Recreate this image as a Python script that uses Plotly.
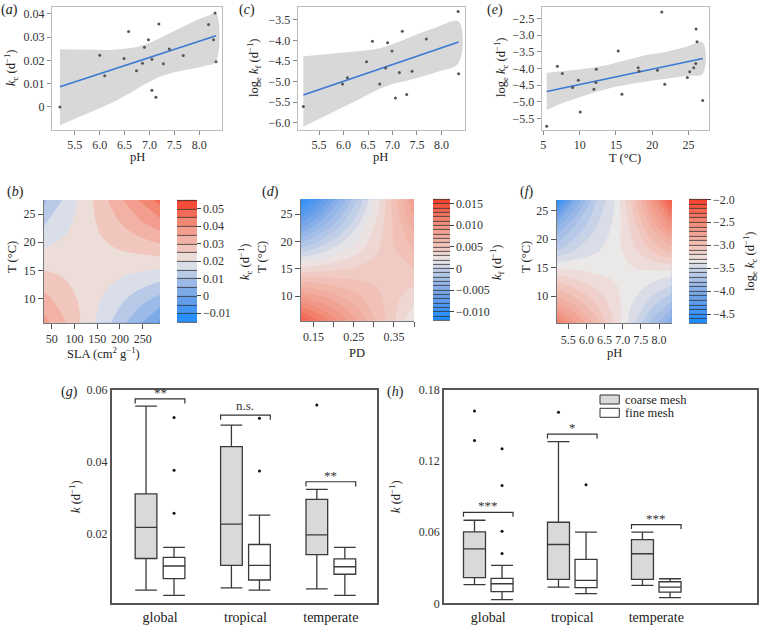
import plotly.graph_objects as go

W, H = 760, 625
FONT = "Liberation Serif"
INK = "#222222"

# ---------------- data ----------------
# (a) k_c against pH
a_ph = [5.20, 6.00, 6.10, 6.58, 6.49, 6.74, 6.86, 6.90, 6.98, 7.05, 7.05, 7.13, 7.19, 7.28, 7.40, 7.68, 8.19, 8.32, 8.29, 8.34]
a_kc = [0.0, 0.0222, 0.0134, 0.0325, 0.0209, 0.0156, 0.0188, 0.0257, 0.0289, 0.0205, 0.0072, 0.0042, 0.0357, 0.0186, 0.0249, 0.0221, 0.0355, 0.0404, 0.0289, 0.0195]
a_fit_x = [5.20, 8.34]
a_fit_y = [0.0087, 0.0306]
a_band_x = [5.20, 5.67, 6.14, 6.54, 6.88, 7.21, 7.55, 7.89, 8.15, 8.34]
a_band_hi = [0.0248, 0.0247, 0.0245, 0.0251, 0.0267, 0.0296, 0.0332, 0.0368, 0.0390, 0.0404]
a_band_lo = [-0.0079, -0.0036, 0.0007, 0.0051, 0.0094, 0.0130, 0.0152, 0.0166, 0.0178, 0.0195]

# (c) log_e k_f against pH
c_ph = [5.18, 5.98, 6.08, 6.47, 6.59, 6.74, 6.86, 6.90, 6.99, 7.06, 7.14, 7.20, 7.29, 7.40, 7.69, 8.34, 8.35]
c_lkf = [-5.61, -5.06, -4.91, -4.52, -4.02, -5.06, -4.67, -4.06, -4.26, -5.40, -4.78, -3.78, -5.32, -4.75, -3.97, -3.30, -4.81]
c_fit_x = [5.18, 8.35]
c_fit_y = [-5.33, -4.04]
c_band_x = [5.18, 5.79, 6.34, 6.74, 7.08, 7.49, 7.90, 8.35]
c_band_hi = [-4.39, -4.32, -4.26, -4.19, -4.06, -3.86, -3.68, -3.54]
c_band_lo = [-6.10, -5.74, -5.42, -5.18, -5.04, -4.92, -4.77, -4.55]

# (e) log_e k_c against temperature
e_t = [5.46, 6.93, 7.61, 9.04, 9.82, 10.09, 11.97, 12.29, 12.25, 15.32, 15.83, 18.07, 18.21, 20.73, 21.33, 21.74, 24.86, 25.18, 25.73, 26.01, 26.06, 26.19, 26.97]
e_lkc = [-5.73, -3.93, -4.15, -4.57, -4.35, -5.30, -4.62, -4.02, -4.42, -3.48, -4.77, -3.98, -4.08, -4.05, -2.31, -4.47, -4.27, -4.10, -3.98, -3.85, -2.82, -3.20, -4.96]
e_fit_x = [5.46, 26.97]
e_fit_y = [-4.69, -3.70]
e_band_x = [5.46, 8.21, 10.96, 13.72, 16.47, 19.22, 21.97, 24.72, 26.97]
e_band_hi = [-4.13, -4.07, -4.00, -3.90, -3.75, -3.60, -3.50, -3.35, -3.22]
e_band_lo = [-5.24, -4.99, -4.79, -4.61, -4.49, -4.39, -4.31, -4.22, -4.16]

# (b) predicted k_c over SLA x T
b_sla = [33, 75, 118, 160, 203, 245, 288]
b_t = [5.7, 10.1, 14.4, 18.8, 23.1, 27.5]
b_kc = [
    [0.0370, 0.0307, 0.0243, 0.0180, 0.0117, 0.0053, -0.0010],
    [0.0314, 0.0276, 0.0238, 0.0200, 0.0162, 0.0124, 0.0086],
    [0.0258, 0.0245, 0.0233, 0.0220, 0.0207, 0.0195, 0.0182],
    [0.0202, 0.0215, 0.0227, 0.0240, 0.0253, 0.0265, 0.0278],
    [0.0146, 0.0184, 0.0222, 0.0260, 0.0298, 0.0336, 0.0374],
    [0.0090, 0.0153, 0.0217, 0.0280, 0.0343, 0.0407, 0.0470],
]

# (d) predicted k_f over PD x T
d_pd = [0.119, 0.166, 0.213, 0.260, 0.306, 0.353, 0.400]
d_t = [5.5, 9.9, 14.4, 18.8, 23.3, 27.7]
d_kf = [
    [0.0140, 0.0120, 0.0100, 0.0080, 0.0060, 0.0040, 0.0020],
    [0.0090, 0.0081, 0.0071, 0.0062, 0.0053, 0.0043, 0.0034],
    [0.0040, 0.0041, 0.0043, 0.0044, 0.0045, 0.0047, 0.0048],
    [-0.0010, 0.0002, 0.0014, 0.0026, 0.0038, 0.0050, 0.0062],
    [-0.0060, -0.0037, -0.0015, 0.0008, 0.0031, 0.0053, 0.0076],
    [-0.0110, -0.0077, -0.0043, -0.0010, 0.0023, 0.0057, 0.0090],
]

# (f) predicted log_e k_c over pH x T
f_ph = [5.18, 5.71, 6.24, 6.77, 7.29, 7.82, 8.35]
f_t = [5.2, 9.5, 13.9, 18.2, 22.6, 26.9]
f_lkc = [
    [-2.40, -2.67, -2.94, -3.21, -3.48, -3.75, -4.00],
    [-2.86, -2.99, -3.13, -3.26, -3.39, -3.52, -3.66],
    [-3.22, -3.26, -3.30, -3.32, -3.33, -3.34, -3.36],
    [-3.62, -3.50, -3.42, -3.35, -3.22, -3.08, -2.95],
    [-3.95, -3.70, -3.52, -3.38, -3.15, -2.85, -2.55],
    [-4.60, -4.00, -3.62, -3.40, -3.05, -2.62, -2.15],
]

# (g), (h) box summaries: global, tropical, temperate
groups = ["global", "tropical", "temperate"]

g_coarse_lo = [0.0042, 0.0048, 0.0045]
g_coarse_q1 = [0.0130, 0.0111, 0.0141]
g_coarse_med = [0.0217, 0.0226, 0.0196]
g_coarse_q3 = [0.0310, 0.0442, 0.0295]
g_coarse_hi = [0.0555, 0.0502, 0.0323]
g_fine_lo = [0.0027, 0.0042, 0.0027]
g_fine_q1 = [0.0074, 0.0070, 0.0086]
g_fine_med = [0.0109, 0.0111, 0.0107]
g_fine_q3 = [0.0133, 0.0169, 0.0129]
g_fine_hi = [0.0161, 0.0251, 0.0161]
g_coarse_out_grp = [3]
g_coarse_out = [0.0558]
g_fine_out_grp = [1, 1, 1, 2, 2]
g_fine_out = [0.0523, 0.0376, 0.0256, 0.0521, 0.0374]
g_sig_y = [0.0575, 0.0530, 0.0344]
g_sig_txt = ["**", "n.s.", "**"]

h_coarse_lo = [0.0157, 0.0137, 0.0151]
h_coarse_q1 = [0.0216, 0.0202, 0.0202]
h_coarse_med = [0.0460, 0.0496, 0.0418]
h_coarse_q3 = [0.0603, 0.0684, 0.0538]
h_coarse_hi = [0.0701, 0.1365, 0.0600]
h_fine_lo = [0.0031, 0.0081, 0.0048]
h_fine_q1 = [0.0098, 0.0132, 0.0095]
h_fine_med = [0.0165, 0.0193, 0.0137]
h_fine_q3 = [0.0210, 0.0370, 0.0182]
h_fine_hi = [0.0320, 0.0600, 0.0207]
h_coarse_out_grp = [1, 1, 2]
h_coarse_out = [0.1623, 0.1374, 0.1612]
h_fine_out_grp = [1, 1, 1, 1, 2]
h_fine_out = [0.1304, 0.0995, 0.0608, 0.0421, 0.1001]
h_sig_y = [0.0768, 0.1427, 0.0664]
h_sig_txt = ["***", "*", "***"]


# ---------------- helpers ----------------
def xd(l, r):
    return [l / W, r / W]


def yd(t, b):
    return [1 - b / H, 1 - t / H]


def px(x):
    return x / W


def py(y):
    return 1 - y / H


fig = go.Figure()
annotations = []
shapes = []


def note(text, x, y, size=12.5, angle=0, xanchor="center", yanchor="middle"):
    annotations.append(dict(text=text, x=px(x), y=py(y), xref="paper", yref="paper",
                            showarrow=False, textangle=angle, xanchor=xanchor, yanchor=yanchor,
                            font=dict(family=FONT, size=size, color=INK)))


tickfont = dict(family=FONT, size=12, color="#333333")

# ---------------- top row: scatter + fit + confidence band ----------------
top_panels = [
    ("x", "y", a_ph, a_kc, a_fit_x, a_fit_y, a_band_x, a_band_hi, a_band_lo),
    ("x2", "y2", c_ph, c_lkf, c_fit_x, c_fit_y, c_band_x, c_band_hi, c_band_lo),
    ("x3", "y3", e_t, e_lkc, e_fit_x, e_fit_y, e_band_x, e_band_hi, e_band_lo),
]
for xa, ya, sx, sy, fx, fy, bx, bh, bl in top_panels:
    fig.add_trace(go.Scatter(x=bx + bx[::-1], y=bh + bl[::-1], fill="toself", mode="lines",
                             line=dict(width=0, shape="spline"), fillcolor="#d8d8d8",
                             xaxis=xa, yaxis=ya, hoverinfo="skip"))
    fig.add_trace(go.Scatter(x=fx, y=fy, mode="lines", line=dict(color="#3a78d4", width=1.6),
                             xaxis=xa, yaxis=ya))
    fig.add_trace(go.Scatter(x=sx, y=sy, mode="markers", marker=dict(size=3, color="#555555"),
                             xaxis=xa, yaxis=ya))

# ---------------- middle row: filled contour surfaces ----------------
CS = [[0.0, "#1a8cff"], [0.2, "#6a9fe8"], [0.4, "#bccbe8"], [0.5, "#ebe8e8"],
      [0.6, "#f1c8bf"], [0.8, "#f28f7d"], [1.0, "#f5402c"]]

heat_panels = [
    ("x4", "y4", b_sla, b_t, b_kc, -0.015, 0.055, 0.005, 177, 197, 200, 322,
     [-0.01, 0, 0.01, 0.02, 0.03, 0.04, 0.05], ["−0.01", "0", "0.01", "0.02", "0.03", "0.04", "0.05"]),
    ("x5", "y5", d_pd, d_t, d_kf, -0.012, 0.016, 0.001, 432.7, 450, 199.3, 320.7,
     [-0.01, -0.005, 0, 0.005, 0.01, 0.015], ["−0.010", "−0.005", "0", "0.005", "0.010", "0.015"]),
    ("x6", "y6", f_ph, f_t, f_lkc, -4.7, -2.0, 0.1, 689.3, 707.3, 199.3, 323.3,
     [-4.5, -4.0, -3.5, -3.0, -2.5, -2.0], ["−4.5", "−4.0", "−3.5", "−3.0", "−2.5", "−2.0"]),
]
for xa, ya, hx, hy, hz, z0, z1, step, cl, cr, ct, cbm, tv, tt in heat_panels:
    common = dict(x=hx, y=hy, z=hz, xaxis=xa, yaxis=ya, colorscale=CS, zmin=z0, zmax=z1,
                  autocontour=False, hoverinfo="skip",
                  contours=dict(start=z0, end=z1, size=step, coloring="fill"))
    fig.add_trace(go.Contour(**common, line=dict(width=0, smoothing=1.3), showscale=False))
    # transparent twin: only supplies the banded colour bar with its dark separators
    fig.add_trace(go.Contour(**common, opacity=0, line=dict(width=0.8, color="#333333"), showscale=True,
                             colorbar=dict(x=px(cl), xanchor="left", y=py(ct), yanchor="top",
                                           len=(cbm - ct) / H, lenmode="fraction",
                                           thickness=cr - cl, thicknessmode="pixels",
                                           xpad=0, ypad=0, outlinewidth=0, ticks="outside",
                                           ticklen=4, tickcolor="#444444", tickvals=tv, ticktext=tt,
                                           tickfont=tickfont)))

# ---------------- bottom row: box plots ----------------
OFF = 0.164


def boxes(xa, ya, width, lo, q1, med, q3, hi, side, fill):
    pos = [i + 1 + side * OFF for i in range(len(groups))]
    fig.add_trace(go.Box(x=pos, lowerfence=lo, q1=q1, median=med, q3=q3, upperfence=hi,
                         width=width, whiskerwidth=1, fillcolor=fill, boxpoints=False,
                         line=dict(color="#3a3a3a", width=1.3), xaxis=xa, yaxis=ya))


def outliers(xa, ya, grp, vals, side):
    fig.add_trace(go.Scatter(x=[g + side * OFF for g in grp], y=vals, mode="markers",
                             marker=dict(size=3, color="#111111"), xaxis=xa, yaxis=ya))


def brackets(xr, yr, half, ys, txts, drop):
    for i, (yv, t) in enumerate(zip(ys, txts)):
        c = i + 1
        shapes.append(dict(type="path", xref=xr, yref=yr,
                           path=f"M{c - half},{yv - drop} L{c - half},{yv} L{c + half},{yv} L{c + half},{yv - drop}",
                           line=dict(color="#333333", width=1.2)))
        annotations.append(dict(text=t, x=c, y=yv, xref=xr, yref=yr, showarrow=False,
                                yanchor="bottom", yshift=-3 if t.startswith("*") else 0,
                                font=dict(family=FONT, size=13, color="#333333")))


boxes("x7", "y7", 0.254, g_coarse_lo, g_coarse_q1, g_coarse_med, g_coarse_q3, g_coarse_hi, -1, "#d9d9d9")
boxes("x7", "y7", 0.254, g_fine_lo, g_fine_q1, g_fine_med, g_fine_q3, g_fine_hi, 1, "#ffffff")
outliers("x7", "y7", g_coarse_out_grp, g_coarse_out, -1)
outliers("x7", "y7", g_fine_out_grp, g_fine_out, 1)
brackets("x7", "y7", OFF + 0.127, g_sig_y, g_sig_txt, 0.0013)

boxes("x8", "y8", 0.262, h_coarse_lo, h_coarse_q1, h_coarse_med, h_coarse_q3, h_coarse_hi, -1, "#d9d9d9")
boxes("x8", "y8", 0.262, h_fine_lo, h_fine_q1, h_fine_med, h_fine_q3, h_fine_hi, 1, "#ffffff")
outliers("x8", "y8", h_coarse_out_grp, h_coarse_out, -1)
outliers("x8", "y8", h_fine_out_grp, h_fine_out, 1)
brackets("x8", "y8", OFF + 0.131, h_sig_y, h_sig_txt, 0.0038)

# legend of panel (h)
for (t, b), fill, label in [((395, 404), "#d9d9d9", "coarse mesh"), ((408.3, 417.3), "#ffffff", "fine mesh")]:
    shapes.append(dict(type="rect", xref="paper", yref="paper", x0=px(600), x1=px(619.3),
                       y0=py(b), y1=py(t), fillcolor=fill, line=dict(color="#333333", width=1)))
    note(label, 623, (t + b) / 2, size=12.5, xanchor="left")

# ---------------- axes ----------------
top_ax = dict(showgrid=False, zeroline=False, showline=True, mirror=True, linecolor="#bdbdbd",
              linewidth=1, ticks="outside", ticklen=4, tickcolor="#888888", tickfont=tickfont)
mid_ax = dict(showgrid=False, zeroline=False, showline=True, linecolor="#777777", linewidth=1,
              ticks="outside", ticklen=5, tickcolor="#555555", tickfont=tickfont)
box_ax = dict(showgrid=False, zeroline=False, showline=True, mirror=True, linecolor="#555555",
              linewidth=1.5, ticks="", tickfont=tickfont)

fig.update_layout(
    xaxis=dict(top_ax, domain=xd(52, 222), range=[5.04, 8.46], tickvals=[5.5, 6.0, 6.5, 7.0, 7.5, 8.0],
               tickformat=".1f", anchor="y"),
    yaxis=dict(top_ax, domain=yd(7, 130), range=[-0.0099, 0.043], tickvals=[0, 0.01, 0.02, 0.03, 0.04],
               ticktext=["0", "0.01", "0.02", "0.03", "0.04"], anchor="x"),
    xaxis2=dict(top_ax, domain=xd(297.7, 465), range=[5.065, 8.48], tickvals=[5.5, 6.0, 6.5, 7.0, 7.5, 8.0],
                tickformat=".1f", anchor="y2"),
    yaxis2=dict(top_ax, domain=yd(7, 130), range=[-6.18, -3.19], dtick=0.5, tick0=-6.0,
                tickformat=".1f", anchor="x2"),
    xaxis3=dict(top_ax, domain=xd(541.7, 709), range=[4.77, 27.84], tickvals=[5, 10, 15, 20, 25], anchor="y3"),
    yaxis3=dict(top_ax, domain=yd(7.3, 130), range=[-5.84, -2.17], dtick=0.5, tick0=-5.5,
                tickformat=".1f", anchor="x3"),
    xaxis4=dict(mid_ax, domain=xd(44, 160), range=[33, 288], tickvals=[50, 100, 150, 200, 250], anchor="y4"),
    yaxis4=dict(mid_ax, domain=yd(200, 322.7), range=[5.7, 27.5], tickvals=[10, 15, 20, 25], anchor="x4"),
    xaxis5=dict(mid_ax, domain=xd(301, 414), range=[0.119, 0.40],
                tickvals=[0.15, 0.20, 0.25, 0.30, 0.35, 0.40], ticktext=["0.15", "", "0.25", "", "0.35", ""],
                anchor="y5"),
    yaxis5=dict(mid_ax, domain=yd(199.3, 320.7), range=[5.5, 27.7], tickvals=[10, 15, 20, 25], anchor="x5"),
    xaxis6=dict(mid_ax, domain=xd(556.7, 671.7), range=[5.18, 8.35], tickvals=[5.5, 6.0, 6.5, 7.0, 7.5, 8.0],
                tickformat=".1f", anchor="y6"),
    yaxis6=dict(mid_ax, domain=yd(200, 323.3), range=[5.2, 26.9], tickvals=[10, 15, 20, 25], anchor="x6"),
    xaxis7=dict(box_ax, domain=xd(111.7, 376.7), range=[0.434, 3.537], tickvals=[1, 2, 3], ticktext=groups,
                tickfont=dict(family=FONT, size=14, color=INK), anchor="y7"),
    yaxis7=dict(box_ax, domain=yd(390, 603.3), range=[0.0005, 0.06], tickvals=[0.02, 0.04, 0.06],
                tickformat=".2f", anchor="x7"),
    xaxis8=dict(box_ax, domain=xd(444, 756.7), range=[0.473, 4.196], tickvals=[1, 2, 3], ticktext=groups,
                tickfont=dict(family=FONT, size=14, color=INK), anchor="y8"),
    yaxis8=dict(box_ax, domain=yd(390, 603.3), range=[0, 0.18], tickvals=[0, 0.06, 0.12, 0.18],
                ticktext=["0", "0.06", "0.12", "0.18"], anchor="x8"),
)

# ---------------- labels ----------------
for lab, x, y in [("a", 9, 10), ("c", 247, 10), ("e", 495, 10), ("b", 15, 192), ("d", 270, 192),
                  ("f", 527, 192), ("g", 69, 392), ("h", 395, 392)]:
    note(f"(<i>{lab}</i>)", x, y, size=14)

kc = "<i>k</i><sub>c</sub> (d<sup>−1</sup>)"
note(kc, 11, 68, angle=-90)
note("log<sub>e</sub> <i>k</i><sub>f</sub> (d<sup>−1</sup>)", 254, 68, angle=-90)
note("log<sub>e</sub> <i>k</i><sub>c</sub> (d<sup>−1</sup>)", 501, 68, angle=-90)
note("pH", 137, 157)
note("pH", 381, 157)
note("T (°C)", 625, 158)

for x in (12, 262, 526):
    note("T (°C)", x, 257, angle=-90)
note("SLA (cm<sup>2</sup> g<sup>−1</sup>)", 103, 353)
note("PD", 357, 353)
note("pH", 614, 353)
note(kc, 245, 262, angle=-90)
note("<i>k</i><sub>f</sub> (d<sup>−1</sup>)", 497, 262, angle=-90)
note("log<sub>e</sub> <i>k</i><sub>c</sub> (d<sup>−1</sup>)", 750, 262, angle=-90)

note("<i>k</i> (d<sup>−1</sup>)", 75, 497, angle=-90)
note("<i>k</i> (d<sup>−1</sup>)", 395, 497, angle=-90)

fig.update_layout(width=W, height=H, margin=dict(l=0, r=0, t=0, b=0, autoexpand=False), showlegend=False,
                  paper_bgcolor="white", plot_bgcolor="white", boxmode="overlay",
                  font=dict(family=FONT, color=INK), annotations=annotations, shapes=shapes)

# the page body has a default 8px margin; drop it so the figure sits at the window corner
fig.write_html("out.html", config={"displayModeBar": False},
               post_script="document.body.style.margin='0';")
